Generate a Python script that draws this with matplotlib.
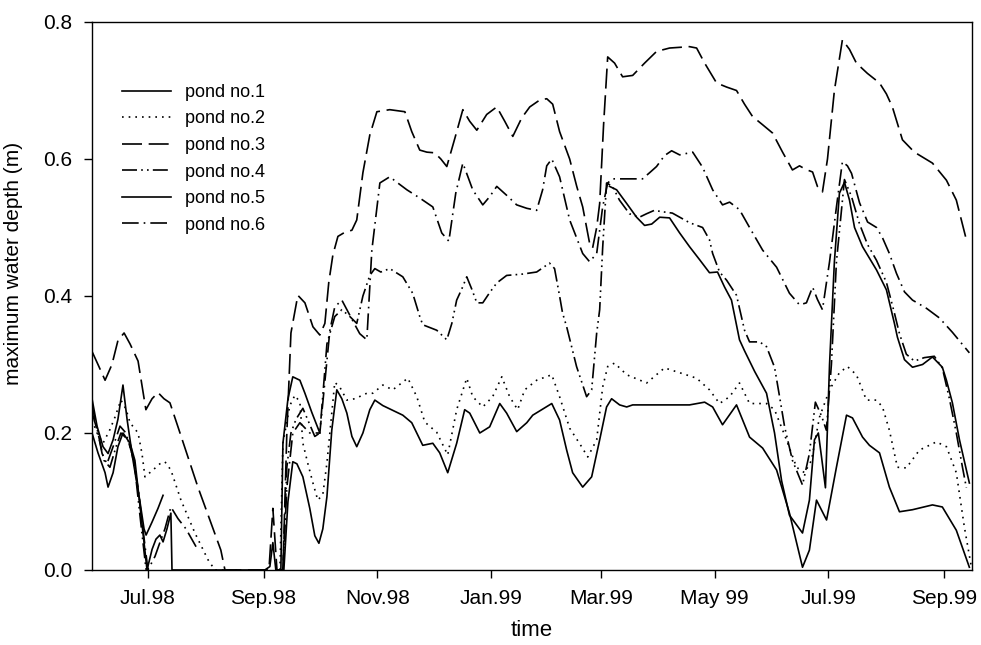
import numpy as np
import matplotlib
matplotlib.use("Agg")
from matplotlib import pyplot as plt

plt.rcParams['font.family'] = ['Liberation Sans', 'DejaVu Sans']

nan = np.nan
start = np.datetime64('1998-06-01')
tick_dates = np.array(['1998-07-01', '1998-09-01', '1998-11-01', '1999-01-01',
                       '1999-03-01', '1999-05-01', '1999-07-01', '1999-09-01'],
                      dtype='datetime64[D]')
tick_labels = ['Jul.98', 'Sep.98', 'Nov.98', 'Jan.99', 'Mar.99', 'May 99', 'Jul.99', 'Sep.99']

# (days since 1 Jun 1998, maximum water depth in m); nan = no data
pond1 = [(0, 0.2), (3.2, 0.171), (7.0, 0.142), (8.6, 0.121), (11.3, 0.142), (13.9, 0.18),
         (16.6, 0.2), (20.4, 0.185), (23.0, 0.16), (26.3, 0.08), (29.5, 0.0), (32.2, 0.03),
         (34.3, 0.045), (36.4, 0.051), (38.1, 0.041), (40.2, 0.06), (42.3, 0.083), (42.9, 0.0),
         (92.7, 0.0), (95.4, 0.005), (97.0, 0.04), (98.6, 0.0), (102.9, 0.0), (105.1, 0.1),
         (107.7, 0.158), (109.9, 0.155), (113.1, 0.136), (116.8, 0.09), (119.5, 0.05),
         (121.7, 0.039), (123.8, 0.06), (126.0, 0.107), (128.6, 0.204), (131.3, 0.263),
         (134.0, 0.25), (136.7, 0.229), (139.4, 0.195), (142.0, 0.18), (145.3, 0.2),
         (149.0, 0.234), (151.7, 0.248), (156.0, 0.24), (166.7, 0.226), (171.5, 0.215),
         (177.4, 0.182), (182.8, 0.185), (186.5, 0.171), (190.8, 0.142), (195.6, 0.185),
         (199.9, 0.234), (202.6, 0.229), (208.0, 0.2), (213.3, 0.209), (218.7, 0.243),
         (222.4, 0.229), (227.8, 0.202), (233.2, 0.215), (236.4, 0.226), (241.2, 0.234),
         (246.6, 0.243), (250.8, 0.219), (254.6, 0.175), (257.8, 0.142), (263.2, 0.121),
         (268.0, 0.136), (272.3, 0.19), (276.0, 0.238), (278.7, 0.25), (283.0, 0.241),
         (286.8, 0.238), (290.0, 0.241), (320.5, 0.241), (328.6, 0.245), (332.9, 0.238),
         (338.2, 0.212), (345.7, 0.241), (352.7, 0.194), (359.7, 0.178), (367.2, 0.146),
         (374.1, 0.083), (381.1, 0.004), (384.8, 0.029), (388.6, 0.102), (394.0, 0.073),
         (399.3, 0.15), (404.7, 0.226), (407.9, 0.222), (413.3, 0.194), (417.0, 0.182),
         (422.4, 0.171), (427.7, 0.121), (433.1, 0.085), (440.1, 0.088), (450.8, 0.095),
         (456.1, 0.092), (463.6, 0.058), (470.6, 0.004)]

pond2 = [(0, 0.219), (2.7, 0.2), (5.9, 0.185), (9.6, 0.205), (12.3, 0.223), (15.5, 0.248),
         (18.2, 0.235), (20.4, 0.215), (24.7, 0.2), (26.8, 0.17), (28.4, 0.136), (32.7, 0.146),
         (36.4, 0.155), (39.1, 0.158), (42.3, 0.146), (47.7, 0.102), (55.2, 0.054),
         (62.2, 0.015), (65.9, 0.0), (79.3, 0.0), (nan, nan),
         (100.8, 0.0), (102.4, 0.185), (106.1, 0.24), (108.8, 0.255), (111.5, 0.245),
         (113.1, 0.185), (115.8, 0.155), (118.5, 0.127), (121.1, 0.102), (123.8, 0.11),
         (126.0, 0.156), (128.6, 0.229), (130.2, 0.274), (132.9, 0.267), (136.7, 0.248),
         (141.0, 0.25), (147.4, 0.258), (150.6, 0.258), (156.0, 0.27), (161.3, 0.263),
         (169.4, 0.28), (174.2, 0.253), (178.5, 0.216), (184.9, 0.201), (190.8, 0.168),
         (195.6, 0.234), (201.0, 0.28), (204.2, 0.253), (209.6, 0.238), (214.9, 0.253),
         (219.8, 0.282), (224.0, 0.253), (228.3, 0.234), (232.1, 0.263), (238.5, 0.277),
         (246.6, 0.285), (250.8, 0.253), (256.2, 0.207), (262.6, 0.18), (265.9, 0.165),
         (270.7, 0.19), (273.9, 0.267), (276.6, 0.297), (280.3, 0.302), (286.8, 0.285),
         (297.5, 0.273), (307.1, 0.295), (315.2, 0.288), (324.3, 0.28), (331.2, 0.263),
         (336.6, 0.243), (342.0, 0.253), (347.3, 0.273), (352.7, 0.243), (361.8, 0.243),
         (366.1, 0.234), (372.5, 0.19), (377.9, 0.15), (382.2, 0.142), (385.9, 0.16),
         (390.2, 0.223), (395.6, 0.263), (400.9, 0.288), (405.2, 0.297), (410.0, 0.285),
         (415.4, 0.248), (420.8, 0.248), (424.0, 0.238), (427.7, 0.204), (432.0, 0.15),
         (436.8, 0.149), (443.8, 0.175), (452.9, 0.187), (458.3, 0.18), (463.6, 0.142),
         (467.9, 0.063), (471.7, 0.004)]

pond3 = [(0, 0.319), (3.2, 0.30), (7.0, 0.277), (10.7, 0.30), (13.9, 0.335), (17.2, 0.346),
         (20.4, 0.33), (24.7, 0.305), (28.9, 0.234), (32.2, 0.25), (35.4, 0.259), (38.6, 0.25),
         (41.8, 0.244), (46.1, 0.209), (56.8, 0.121), (69.1, 0.029), (71.3, 0.0), (92.7, 0.0),
         (94.9, 0.0), (97.0, 0.09), (99.2, 0.0), (102.4, 0.0), (104.5, 0.2), (106.7, 0.346),
         (110.4, 0.401), (114.2, 0.39), (118.5, 0.355), (122.2, 0.343), (124.9, 0.36),
         (127.0, 0.42), (129.2, 0.46), (131.9, 0.487), (135.6, 0.493), (139.4, 0.496),
         (142.0, 0.511), (145.3, 0.58), (149.0, 0.635), (152.8, 0.669), (159.7, 0.672),
         (167.8, 0.669), (171.5, 0.64), (175.8, 0.613), (179.6, 0.61), (183.8, 0.609),
         (187.1, 0.6), (190.3, 0.589), (194.6, 0.63), (198.9, 0.672), (202.6, 0.655),
         (206.4, 0.642), (211.7, 0.665), (217.1, 0.676), (221.4, 0.655), (225.7, 0.633),
         (230.5, 0.66), (234.8, 0.676), (240.1, 0.686), (243.9, 0.688), (247.1, 0.68),
         (250.8, 0.64), (256.2, 0.6), (260.0, 0.56), (263.2, 0.53), (266.9, 0.477),
         (268.5, 0.47), (270.7, 0.5), (272.3, 0.535), (274.4, 0.65), (276.6, 0.749),
         (280.3, 0.74), (284.6, 0.72), (290.0, 0.722), (296.4, 0.74), (302.8, 0.757),
         (309.8, 0.762), (320.5, 0.764), (324.3, 0.762), (328.6, 0.74), (335.0, 0.711),
         (340.4, 0.705), (345.7, 0.70), (350.0, 0.68), (354.3, 0.662), (359.7, 0.65),
         (365.0, 0.638), (370.4, 0.61), (375.7, 0.584), (379.5, 0.59), (382.7, 0.585),
         (386.5, 0.581), (389.1, 0.56), (391.8, 0.552), (394.5, 0.6), (398.2, 0.7),
         (402.5, 0.774), (406.3, 0.76), (410.0, 0.74), (415.9, 0.725), (422.4, 0.711),
         (426.1, 0.695), (429.3, 0.676), (434.7, 0.628), (441.1, 0.61), (450.8, 0.594),
         (458.3, 0.569), (463.6, 0.54), (469.0, 0.482)]

pond4 = [(0, 0.24), (3.2, 0.2), (6.4, 0.16), (9.6, 0.15), (12.9, 0.18), (15.5, 0.2),
         (19.3, 0.19), (22.5, 0.16), (25.7, 0.08), (29.0, 0.0), (nan, nan),
         (102.4, 0.0), (104.5, 0.15), (106.7, 0.2), (109.4, 0.22), (113.1, 0.236),
         (119.5, 0.195), (122.2, 0.2), (126.0, 0.33), (130.2, 0.37), (134.0, 0.38),
         (138.3, 0.37), (142.0, 0.36), (145.3, 0.4), (149.0, 0.43), (151.7, 0.44),
         (154.9, 0.435), (159.7, 0.44), (166.7, 0.428), (172.0, 0.404), (175.8, 0.37),
         (177.4, 0.358), (184.9, 0.35), (190.3, 0.336), (193.0, 0.36), (195.6, 0.394),
         (198.3, 0.41), (201.0, 0.428), (203.7, 0.41), (206.4, 0.39), (209.6, 0.39),
         (213.3, 0.405), (217.1, 0.419), (222.4, 0.43), (231.0, 0.432), (238.5, 0.435),
         (245.4, 0.448), (248.1, 0.44), (250.8, 0.4), (252.4, 0.375), (254.6, 0.355),
         (259.9, 0.297), (265.3, 0.253), (268.0, 0.263), (270.7, 0.346), (272.3, 0.38),
         (273.9, 0.47), (276.0, 0.565), (279.2, 0.56), (282.9, 0.54), (288.3, 0.52),
         (293.6, 0.515), (297.4, 0.52), (301.6, 0.525), (305.9, 0.523), (311.3, 0.521),
         (320.5, 0.507), (327.5, 0.5), (331.2, 0.482), (332.9, 0.462), (336.6, 0.435),
         (340.4, 0.423), (345.7, 0.401), (350.0, 0.35), (352.7, 0.333), (358.1, 0.333),
         (361.8, 0.326), (366.1, 0.296), (368.8, 0.253), (371.5, 0.209), (375.7, 0.16),
         (381.1, 0.124), (384.8, 0.17), (388.0, 0.245), (391.3, 0.225), (393.9, 0.204),
         (396.6, 0.3), (399.3, 0.45), (403.6, 0.57), (407.4, 0.545), (411.7, 0.505),
         (416.0, 0.475), (420.8, 0.452), (426.1, 0.42), (430.4, 0.375), (433.1, 0.345),
         (436.8, 0.315), (441.1, 0.305), (446.4, 0.31), (451.8, 0.312), (456.1, 0.295),
         (459.9, 0.25), (463.6, 0.2), (466.9, 0.15), (469.0, 0.12)]

pond5 = [(0, 0.25), (2.7, 0.21), (5.9, 0.18), (8.6, 0.17), (11.3, 0.19), (13.9, 0.22),
         (16.6, 0.27), (18.8, 0.22), (22.0, 0.16), (25.7, 0.1), (27.9, 0.06), (29.0, 0.051),
         (32.2, 0.07), (35.4, 0.09), (38.1, 0.109), (nan, nan),
         (101.3, 0.0), (102.4, 0.185), (105.1, 0.25), (107.7, 0.282), (111.5, 0.277),
         (114.2, 0.258), (117.9, 0.23), (122.2, 0.2), (nan, nan),
         (277.6, 0.56), (281.4, 0.555), (286.8, 0.535), (292.1, 0.515), (296.4, 0.503),
         (300.2, 0.505), (304.5, 0.515), (309.8, 0.514), (315.2, 0.492), (320.5, 0.472),
         (325.9, 0.453), (331.2, 0.434), (335.5, 0.435), (339.3, 0.413), (343.0, 0.394),
         (347.3, 0.336), (350.0, 0.32), (355.4, 0.29), (361.8, 0.258), (366.1, 0.2),
         (369.9, 0.13), (374.1, 0.08), (381.1, 0.054), (384.8, 0.102), (387.5, 0.19),
         (389.6, 0.2), (391.3, 0.165), (393.4, 0.12), (395.6, 0.3), (398.2, 0.45),
         (400.9, 0.55), (403.6, 0.566), (406.3, 0.54), (409.0, 0.5), (413.3, 0.472),
         (420.8, 0.438), (426.1, 0.409), (430.4, 0.36), (432.0, 0.34), (435.8, 0.307),
         (440.1, 0.296), (445.5, 0.3), (450.8, 0.311), (456.1, 0.296), (458.3, 0.277),
         (461.5, 0.244), (465.3, 0.19), (469.0, 0.146), (470.6, 0.127)]

pond6 = [(0, 0.23), (3.2, 0.2), (5.4, 0.17), (8.0, 0.155), (11.3, 0.18), (15.0, 0.21),
         (18.2, 0.2), (21.4, 0.17), (24.7, 0.12), (27.3, 0.06), (30.0, 0.0), (33.8, 0.02),
         (36.4, 0.04), (39.1, 0.06), (42.3, 0.092), (46.1, 0.075), (50.4, 0.06),
         (55.8, 0.034), (nan, nan),
         (102.4, 0.0), (104.5, 0.12), (107.7, 0.2), (111.5, 0.215), (116.8, 0.2),
         (122.2, 0.2), (127.6, 0.35), (130.2, 0.384), (134.0, 0.394), (141.0, 0.358),
         (143.6, 0.345), (147.4, 0.336), (150.1, 0.467), (154.4, 0.565), (159.7, 0.574),
         (164.0, 0.565), (168.9, 0.555), (175.8, 0.543), (182.8, 0.53), (187.6, 0.492),
         (191.4, 0.48), (195.1, 0.55), (198.9, 0.594), (201.5, 0.575), (204.2, 0.555),
         (209.6, 0.533), (213.3, 0.545), (217.1, 0.56), (222.4, 0.547), (227.8, 0.533),
         (233.2, 0.528), (238.5, 0.525), (241.7, 0.555), (243.9, 0.59), (246.6, 0.6),
         (250.8, 0.574), (256.2, 0.511), (263.2, 0.462), (266.9, 0.45), (270.7, 0.462),
         (273.9, 0.53), (276.6, 0.565), (279.2, 0.571), (285.6, 0.571), (295.3, 0.571),
         (299.1, 0.58), (302.8, 0.589), (307.1, 0.605), (310.9, 0.612), (315.2, 0.606),
         (322.2, 0.61), (327.5, 0.588), (332.9, 0.555), (338.2, 0.533), (342.0, 0.537),
         (347.3, 0.526), (352.7, 0.5), (359.7, 0.467), (367.2, 0.442), (374.1, 0.404),
         (379.5, 0.387), (383.2, 0.39), (386.5, 0.413), (389.1, 0.395), (391.8, 0.38),
         (395.6, 0.45), (399.3, 0.53), (402.5, 0.596), (405.2, 0.59), (407.4, 0.579),
         (411.7, 0.536), (416.0, 0.508), (420.8, 0.5), (424.0, 0.485), (427.7, 0.462),
         (431.5, 0.433), (435.8, 0.406), (440.1, 0.394), (447.6, 0.382), (454.5, 0.368),
         (461.5, 0.347), (470.6, 0.317)]

series = [('pond no.1', pond1, None),
          ('pond no.2', pond2, (1, 3)),
          ('pond no.3', pond3, (12, 4)),
          ('pond no.4', pond4, (9, 2.5, 1, 2.5, 1, 2.5)),
          ('pond no.5', pond5, None),
          ('pond no.6', pond6, (10, 3, 1, 3))]

fig = plt.figure(figsize=(9.81, 6.45), dpi=100)
ax = fig.add_axes([0.0938, 0.1163, 0.8970, 0.8496])

for name, data, dashes in series:
    d = np.array(data, dtype=float)
    line, = ax.plot(d[:, 0], d[:, 1], color='black', lw=1.2, label=name,
                    solid_joinstyle='round')
    if dashes:
        line.set_dashes(dashes)

tick_days = (tick_dates - start).astype(int)
ax.set_xticks(tick_days)
ax.set_xticklabels(tick_labels)
ax.set_yticks([0.0, 0.2, 0.4, 0.6, 0.8])
ax.set_yticklabels(['0.0', '0.2', '0.4', '0.6', '0.8'])
ax.set_xlim(0, 472)
ax.set_ylim(0, 0.8)
ax.tick_params(direction='out', length=6, width=1, labelsize=15, pad=8)
for s in ax.spines.values():
    s.set_linewidth(1.0)

ax.set_xlabel('time', fontsize=16, labelpad=8)
ax.set_ylabel('maximum water depth (m)', fontsize=15, labelpad=8)
ax.yaxis.set_label_coords(-0.078, 0.56)

ax.legend(loc='upper left', bbox_to_anchor=(0.034, 0.887), frameon=False,
          fontsize=13, handlelength=2.7, handletextpad=0.8, labelspacing=0.53,
          borderpad=0, borderaxespad=0)

fig.savefig('out.png', dpi=100)
